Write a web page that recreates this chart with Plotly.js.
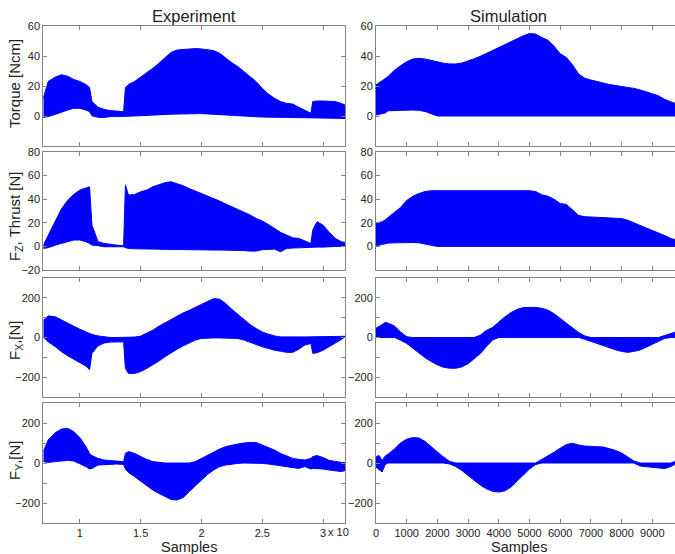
<!DOCTYPE html>
<html>
<head>
<meta charset="utf-8">
<script src="https://cdn.plot.ly/plotly-3.0.1.min.js"></script>
<style>
html,body{margin:0;padding:0;overflow:hidden;background:#fff;}
#chart{width:680px;height:554px;}
</style>
</head>
<body>
<div id="chart"></div>
<script>
// ---------- Experiment (samples) ----------
const expSamples = [7000,7400,8000,8500,9000,9500,10000,10500,10800,11000,11500,12000,12500,13000,13600,13750,14000,14500,15000,15500,16000,16500,17000,17500,18000,18500,19000,19500,20000,20500,21000,21500,22000,22500,23000,23500,24000,24500,25000,25500,26000,26500,27000,27500,28000,28500,29000,29150,29500,30000,30500,31000,31500,31800];

const expTorqueHi = [12,23,26,27.5,26.5,24.4,23,21,19,9.6,5.8,4.4,3.6,3.3,2.9,19,21,23,26,28.4,31.8,35.1,39,42.4,44,44.4,45,45,44.7,44,43.6,41.8,38.4,35.5,32.9,29.6,26.2,22.9,18.4,14.7,11.8,9.6,8.4,8,5.8,3.6,1.8,9.6,10,10,9.6,9.6,8.4,7.3];
const expTorqueLo = [-1,-0.4,1.1,2.7,4,5.1,5.1,4,2.9,0.2,-0.9,-1,-0.4,-0.4,-0.4,-0.4,-0.2,0,0.2,0.5,0.7,0.9,1.1,1.2,1.3,1.5,1.6,1.6,1.6,1.4,1.1,0.9,0.7,0.5,0.2,0,-0.2,-0.5,-0.7,-0.8,-0.9,-1,-1.1,-1.2,-1.3,-1.3,-1.3,-1.4,-1.5,-1.6,-1.6,-1.6,-1.6,-1.6];

const expThrustHi = [1,9.6,22,32,39,44,47.7,49.7,50.5,18,4,2.5,1.7,1.1,0.6,52,43.5,44,46.3,47.7,50.5,52.5,54,54.8,53.4,51.4,49,46.9,45,43,40.7,38.4,35.9,33.6,31.6,29.4,26.6,23.7,21.5,18.6,15.3,11.9,9.6,7.3,6.8,4.5,2.5,13.8,20.9,18,11.9,6.8,4,3.4];
const expThrustLo = [-1.7,-1.1,1.1,2.5,4,5.4,5.4,4,2.5,1.1,0.6,-0.3,-0.3,-0.3,-0.3,-1.1,-1.7,-2,-2.3,-2.3,-2.3,-2.4,-2.5,-2.8,-3.1,-3.1,-3.1,-3.1,-3.1,-3.1,-3.1,-3.1,-3.1,-3.1,-3.1,-3.5,-4,-4,-2.8,-2.5,-2.3,-4.5,-1.7,-1.4,-1.1,-0.8,-0.6,-0.6,-0.6,-0.6,0,0,0,0];

const expFxHi = [87,109,104,87,70,57,42,28,20,15,8,3,0,0,0,0,0,2,7,20,37,57,74,90,107,124,137,154,167,182,196,193,171,142,116,87,65,45,28,17,8,3,2,2,3,3,3,3,4,4,4,5,5,6];
const expFxLo = [3,-22,-47,-72,-92,-109,-126,-144,-162,-80,-42,-28,-23,-22,-22,-156,-181,-181,-172,-156,-139,-119,-97,-77,-59,-42,-27,-13,-5,-2,-2,-2,-2,-2,-5,-13,-25,-35,-47,-55,-64,-69,-75,-75,-59,-38,-30,-80,-77,-64,-47,-30,-10,3];

const expFyHi = [57,115,152,170,173,157,127,82,48,37,23,15,12,10,7,48,57,48,32,18,7,2,0,0,0,0,0,7,23,40,57,70,82,90,95,100,103,102,90,77,65,48,37,23,18,15,23,32,37,27,13,7,3,2];
const expFyLo = [7,3,7,10,13,10,-2,-18,-30,-27,-10,-7,-7,-5,-7,-30,-47,-68,-90,-113,-135,-152,-168,-182,-185,-173,-143,-113,-85,-57,-35,-18,-10,-5,-2,0,0,0,-2,-5,-10,-15,-18,-23,-27,-18,-30,-27,-27,-30,-35,-40,-43,-38];

// ---------- Simulation (samples) ----------
const simSamples = [0,100,200,300,400,600,800,1000,1200,1400,1600,1800,2000,2200,2400,2600,2800,3000,3200,3400,3600,3800,4000,4200,4400,4600,4800,5000,5200,5400,5600,5800,6000,6200,6400,6600,6800,7000,7200,7400,7600,7800,8000,8200,8400,8600,8800,9000,9200,9400,9600,9750];

const simTorqueHi = [20.7,22,23.5,25,26.5,30.5,33.5,36.2,38,38.4,38,37,36,35.2,34.7,34.7,35.3,36.5,38.2,39.8,41.8,44,46,48,50,51.8,53.5,55,54.6,52.4,50.5,46.5,41.5,39,34.2,28,25.2,24,23.2,22,21,20.3,20,19.4,18.4,17.4,16.2,15,13.5,11.1,9.5,8.3];
const simTorqueLo = [0.7,1,1.5,2,3.5,3.7,3.9,4,4,3.8,3,1.5,0,0,0,0,0,0,0,0,0,0,0,0,0,0,0,0,0,0,0,0,0,0,0,0,0,0,0,0,0,0,0,0,0,0,0,0,0,0,0,0];

const simThrustHi = [20,20.3,20.8,22.5,24.5,28.5,33,39,42.5,44.8,46.5,47.2,47.2,47.2,47.2,47.2,47.2,47.2,47.2,47.2,47.2,47.2,47.2,47.2,47.2,47.2,47.2,47.2,46.5,43.8,42.5,40,36.3,35.6,31,26.2,25.2,25,24.8,24.6,24.3,24,23.6,22.2,20.2,18,15.6,13.5,11.5,9.2,6.8,5.6];
const simThrustLo = [0.5,1,1.5,2.5,2.8,3,3.2,3.3,3.3,3,2.2,1,0,0,0,0,0,0,0,0,0,0,0,0,0,0,0,0,0,0,0,0,0,0,0,0,0,0,0,0,0,0,0,0,0,0,0,0,0,0,0,0];

const simFxHi = [47,54,65,76,72,58,28,4,0,0,0,0,0,0,0,0,0,0,0,12,36,51,78,104,126,142,151,153,152,147,138,120,96,73,48,25,8,0,0,0,0,0,0,0,0,0,0,0,0,10,20,27];
const simFxLo = [0,0,0,0,0,0,-14,-30,-54,-79,-102,-121,-138,-150,-155,-155,-148,-132,-108,-81,-45,-12,0,0,0,0,0,0,0,0,0,0,0,0,0,0,-9,-20,-30,-41,-52,-62,-70,-75,-70,-63,-49,-35,-20,-5,0,0];

const simFyHi = [30,38,12,35,45,70,100,119,127,125,108,80,55,30,8,0,0,0,0,0,0,0,0,0,0,0,0,0,0,18,34,54,74,92,99,90,85,83,82,80,72,63,50,32,10,0,0,0,0,0,0,8];
const simFyLo = [-20,-35,-45,-8,0,0,0,0,0,0,0,0,0,0,-5,-18,-38,-62,-88,-111,-129,-142,-145,-139,-120,-90,-58,-30,-8,0,0,0,0,0,0,0,0,0,0,0,0,0,0,0,0,-15,-18,-20,-23,-28,-18,-5];

// ---------- tick labels ----------
const expTickVals = [10000,15000,20000,25000,30000];
const expTickText = ['1','1.5','2','2.5','3'];
const simTickVals = [0,1000,2000,3000,4000,5000,6000,7000,8000,9000];
const simTickText = ['0','1000','2000','3000','4000','5000','6000','7000','8000','9000'];
const columnTitles = ['Experiment','Simulation'];
const rowTitles = ['Torque [Ncm]','F<sub>Z</sub>, Thrust [N]','F<sub>X</sub>,[N]','F<sub>Y</sub>,[N]'];

// ---------- layout geometry ----------
const W = 680, H = 554;
const colPx = [[43.3,345],[376,680]];
const rowPx = [[26,146],[152,270],[278,397],[403,523]];
const yRanges = [[-20,60],[-20,80],[-300,300],[-300,300]];
const yTicks = [
  {vals:[[0,20,40,60],[0,20,40,60]], minor:20},
  {vals:[[-20,0,20,40,60,80],[0,20,40,60,80]], minor:20},
  {vals:[[-200,0,200],[-200,0,200]], minor:100},
  {vals:[[-200,0,200],[-200,0,200]], minor:100}
];

const panelData = [
  [[expSamples,expTorqueLo,expTorqueHi],[simSamples,simTorqueLo,simTorqueHi]],
  [[expSamples,expThrustLo,expThrustHi],[simSamples,simThrustLo,simThrustHi]],
  [[expSamples,expFxLo,expFxHi],[simSamples,simFxLo,simFxHi]],
  [[expSamples,expFyLo,expFyHi],[simSamples,simFyLo,simFyHi]]
];

const BLUE = '#0000ff';
const AX = '#858585';
const TXT = '#222222';
const FONT = 'Liberation Sans, Arial, sans-serif';

const traces = [];
const layout = {
  width: W, height: H,
  margin: {l:0, r:0, t:0, b:0},
  paper_bgcolor: '#fff', plot_bgcolor: '#fff',
  showlegend: false,
  font: {family: FONT, size: 11, color: TXT},
  annotations: []
};

for (let r = 0; r < 4; r++) {
  for (let c = 0; c < 2; c++) {
    const i = r*2 + c + 1;
    const xa = 'x' + (i === 1 ? '' : i), ya = 'y' + (i === 1 ? '' : i);
    const [xs, lo, hi] = panelData[r][c];
    traces.push({x: xs, y: lo, xaxis: xa, yaxis: ya, type: 'scatter', mode: 'lines',
      line: {color: BLUE, width: 1}, hoverinfo: 'skip'});
    traces.push({x: xs, y: hi, xaxis: xa, yaxis: ya, type: 'scatter', mode: 'lines',
      fill: 'tonexty', fillcolor: BLUE, line: {color: BLUE, width: 1}, hoverinfo: 'skip'});
    const xKey = 'xaxis' + (i === 1 ? '' : i), yKey = 'yaxis' + (i === 1 ? '' : i);
    const bottom = (r === 3);
    layout[xKey] = {
      domain: [colPx[c][0]/W, colPx[c][1]/W],
      anchor: ya,
      range: c === 0 ? [7000, 31800] : [0, (colPx[1][1]-colPx[1][0])/30.7*1000],
      tickmode: 'array',
      tickvals: c === 0 ? expTickVals : simTickVals,
      ticktext: c === 0 ? expTickText : simTickText,
      showticklabels: bottom,
      ticks: 'inside', ticklen: 4, tickcolor: AX, tickwidth: 1,
      showline: true, linecolor: AX, linewidth: 1, mirror: 'ticks',
      showgrid: false, zeroline: false,
      tickfont: {family: FONT, size: 11, color: TXT}
    };
    layout[yKey] = {
      domain: [1 - rowPx[r][1]/H, 1 - rowPx[r][0]/H],
      anchor: xa,
      range: yRanges[r],
      tickmode: 'array',
      tickvals: yTicks[r].vals[c],
      ticks: 'inside', ticklen: 4, tickcolor: AX, tickwidth: 1,
      minor: {dtick: yTicks[r].minor, tick0: 0, ticks: 'inside', ticklen: 4, tickcolor: AX, showgrid: false},
      showline: true, linecolor: AX, linewidth: 1, mirror: 'ticks',
      showgrid: false, zeroline: false,
      tickfont: {family: FONT, size: 11, color: TXT}
    };
  }
}

// column titles
const colTitleX = [194, 508];
columnTitles.forEach((t, c) => {
  layout.annotations.push({text: t, xref: 'paper', yref: 'paper', x: colTitleX[c]/W, y: 1 - 16/H,
    xanchor: 'center', yanchor: 'middle', showarrow: false, font: {family: FONT, size: 16.5, color: TXT}});
  layout.annotations.push({text: 'Samples', xref: 'paper', yref: 'paper', x: (c === 0 ? 189 : 519)/W, y: 1 - 546.5/H,
    xanchor: 'center', yanchor: 'middle', showarrow: false, font: {family: FONT, size: 14.5, color: TXT}});
});
// row titles
const rowTitleY = [84, 216, 340, 460];
rowTitles.forEach((t, r) => {
  layout.annotations.push({text: t, xref: 'paper', yref: 'paper', x: 15/W, y: 1 - rowTitleY[r]/H,
    xanchor: 'center', yanchor: 'middle', textangle: -90, showarrow: false, font: {family: FONT, size: 15, color: TXT}});
});
// exponent label next to the last left tick
layout.annotations.push({text: 'x 10', xref: 'paper', yref: 'paper', x: 326/W, y: 1 - 532/H,
  xanchor: 'left', yanchor: 'middle', showarrow: false, font: {family: FONT, size: 11, color: TXT}});

Plotly.newPlot('chart', traces, layout, {staticPlot: true, displayModeBar: false});
</script>
</body>
</html>
